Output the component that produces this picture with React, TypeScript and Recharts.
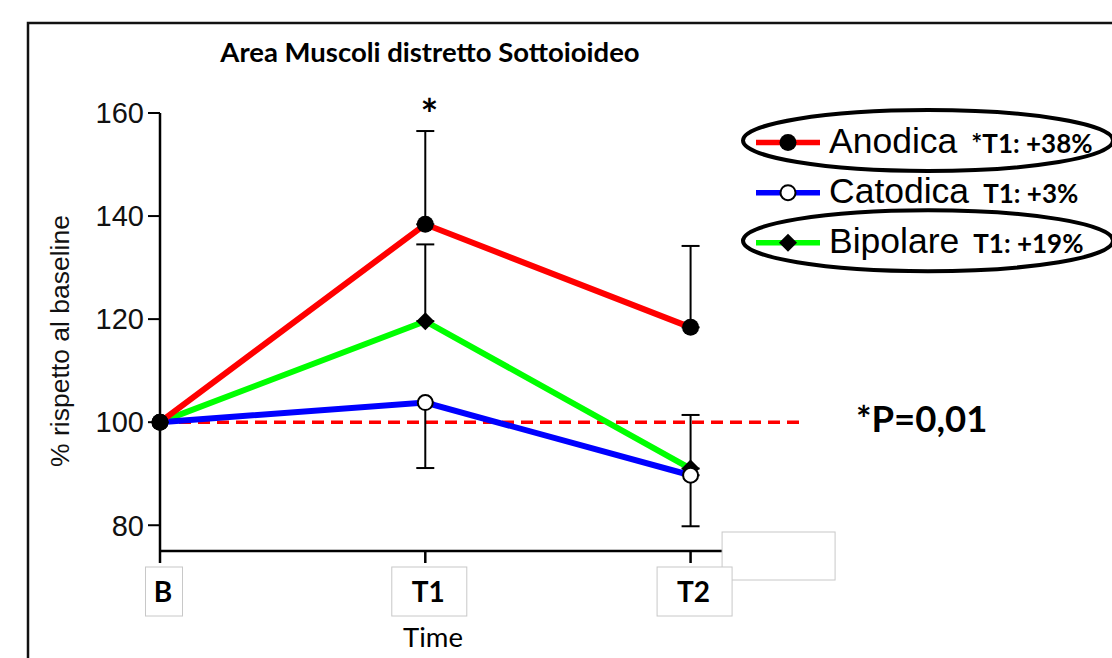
import React from "react";
import { ErrorBar, Line, LineChart, ReferenceLine, XAxis, YAxis } from "recharts";

// time points on the x axis
const timepoints = ["B", "T1", "T2"];

// % of baseline
const anodica = [100, 138.4, 118.4];
const anodicaErrUp = [null, 18.1, 15.8];
const catodica = [100, 103.8, 89.7];
const catodicaErrDown = [null, 12.7, 9.9];
const bipolare = [100, 119.6, 91.0];
const bipolareErrUp = [null, 14.9, 10.4];

const yTicks = [80, 100, 120, 140, 160];
const baseline = 100;

const seriesNames = ["Anodica", "Catodica", "Bipolare"];
const seriesColors = ["#ff0000", "#0000ff", "#00ff00"];
const seriesMarkers = ["filled", "open", "diamond"];
const seriesNotes = ["*T1: +38%", "T1: +3%", "T1: +19%"];
const circled = [true, false, true];

const data = timepoints.map((t, i) => ({
  x: i,
  label: t,
  anodica: anodica[i],
  anodicaErr: anodicaErrUp[i] == null ? null : [0, anodicaErrUp[i]],
  catodica: catodica[i],
  catodicaErr: catodicaErrDown[i] == null ? null : [catodicaErrDown[i], 0],
  bipolare: bipolare[i],
  bipolareErr: bipolareErrUp[i] == null ? null : [0, bipolareErrUp[i]],
}));

const CALIBRI = "Lato, 'Open Sans', sans-serif";
const ARIAL = "'Liberation Sans', Arial, sans-serif";

function Marker({ kind, cx, cy }: { kind: string; cx: number; cy: number }) {
  if (kind === "open") {
    return <circle cx={cx} cy={cy} r={7.5} fill="#fff" stroke="#000" strokeWidth={2} />;
  }
  if (kind === "diamond") {
    const d = 9;
    return <path d={`M${cx},${cy - d}L${cx + d},${cy}L${cx},${cy + d}L${cx - d},${cy}Z`} fill="#000" />;
  }
  return <circle cx={cx} cy={cy} r={8.5} fill="#000" />;
}

const makeDot = (kind: string) => (props: any) => (
  <g key={`${kind}-${props.index}`}>
    <Marker kind={kind} cx={props.cx} cy={props.cy} />
  </g>
);

function TimeTick(props: any) {
  const { x, y, payload, index } = props;
  const label = timepoints[payload.value] ?? "";
  const w = label.length > 1 ? 75 : 37;
  const last = index === timepoints.length - 1;
  return (
    <g>
      {last && (
        <rect x={x + 31.5} y={y - 33} width={113} height={48} fill="#fff" stroke="#c8c8c8" strokeWidth={1} />
      )}
      <rect x={x - w / 2 + 4} y={y + 2} width={w} height={49} fill="#fff" stroke="#c8c8c8" strokeWidth={1} />
      <text x={x + 3} y={y + 37} textAnchor="middle" fontFamily={CALIBRI} fontWeight={700} fontSize={28} fill="#000">
        {label}
      </text>
    </g>
  );
}

function LegendBlock() {
  const rows = [142.5, 192.7, 242.7];
  return (
    <g>
      {seriesNames.map((name, i) => (
        <g key={name}>
          <line x1={756} x2={820} y1={rows[i]} y2={rows[i]} stroke={seriesColors[i]} strokeWidth={5.5} />
          <Marker kind={seriesMarkers[i]} cx={788} cy={rows[i]} />
          <text x={829} y={rows[i] + 10.5} fill="#000">
            <tspan fontFamily={ARIAL} fontSize={35.5}>{name}</tspan>
            <tspan dx={14} fontFamily={CALIBRI} fontWeight={700} fontSize={26}>
              {seriesNotes[i]}
            </tspan>
          </text>
          {circled[i] && (
            <ellipse cx={928} cy={rows[i] - 2} rx={185} ry={30.5} fill="none" stroke="#000" strokeWidth={4} />
          )}
        </g>
      ))}
    </g>
  );
}

export default function App() {
  return (
    <div style={{ position: "absolute", left: 0, top: 0, width: 1112, height: 658, overflow: "hidden", background: "#fff" }}>
      <LineChart width={1112} height={658} data={data} margin={{ top: 113, right: 310, bottom: 47, left: 0 }}>
        <XAxis
          dataKey="x"
          type="number"
          domain={[0, 2.42]}
          ticks={[0, 1, 2]}
          height={60}
          tickSize={12}
          axisLine={{ stroke: "#000", strokeWidth: 2.5 }}
          tickLine={{ stroke: "#000", strokeWidth: 2.5 }}
          tick={<TimeTick />}
          interval={0}
        />
        <YAxis
          type="number"
          domain={[75, 160]}
          ticks={yTicks}
          width={160}
          tickSize={12}
          tickMargin={4}
          axisLine={{ stroke: "#000", strokeWidth: 2.5 }}
          tickLine={{ stroke: "#000", strokeWidth: 2 }}
          tick={{ fontFamily: ARIAL, fontSize: 29, fill: "#111" }}
        />
        <ReferenceLine y={baseline} stroke="#ff0000" strokeWidth={3.5} strokeDasharray="12 7" />
        <Line
          dataKey="bipolare"
          stroke={seriesColors[2]}
          strokeWidth={6}
          dot={makeDot("diamond")}
          activeDot={false}
          isAnimationActive={false}
        >
          <ErrorBar dataKey="bipolareErr" width={9} stroke="#000" strokeWidth={2} direction="y" />
        </Line>
        <Line
          dataKey="catodica"
          stroke={seriesColors[1]}
          strokeWidth={6}
          dot={makeDot("open")}
          activeDot={false}
          isAnimationActive={false}
        >
          <ErrorBar dataKey="catodicaErr" width={9} stroke="#000" strokeWidth={2} direction="y" />
        </Line>
        <Line
          dataKey="anodica"
          stroke={seriesColors[0]}
          strokeWidth={6}
          dot={makeDot("filled")}
          activeDot={false}
          isAnimationActive={false}
        >
          <ErrorBar dataKey="anodicaErr" width={9} stroke="#000" strokeWidth={2} direction="y" />
        </Line>
      </LineChart>
      <svg width={1112} height={658} style={{ position: "absolute", left: 0, top: 0, pointerEvents: "none" }}>
        <rect x={28} y={23} width={1110} height={700} fill="none" stroke="#111" strokeWidth={2.5} />
        <text x={430} y={62} textAnchor="middle" fontFamily={CALIBRI} fontWeight={700} fontSize={27.5} fill="#000">
          Area Muscoli distretto Sottoioideo
        </text>
        <text
          x={69}
          y={341}
          transform="rotate(-90 69 341)"
          textAnchor="middle"
          fontFamily={ARIAL}
          fontSize={26.5}
          fill="#111"
        >
          % rispetto al baseline
        </text>
        <text x={429.5} y={130} textAnchor="middle" fontFamily={CALIBRI} fontWeight={700} fontSize={42} fill="#000">
          *
        </text>
        <text x={856} y={432} fontFamily={CALIBRI} fontWeight={700} fontSize={36.5} fill="#000">
          *P=0,01
        </text>
        <text x={433} y={647} textAnchor="middle" fontFamily={CALIBRI} fontSize={27.5} fill="#000">
          Time
        </text>
        <LegendBlock />
      </svg>
    </div>
  );
}
